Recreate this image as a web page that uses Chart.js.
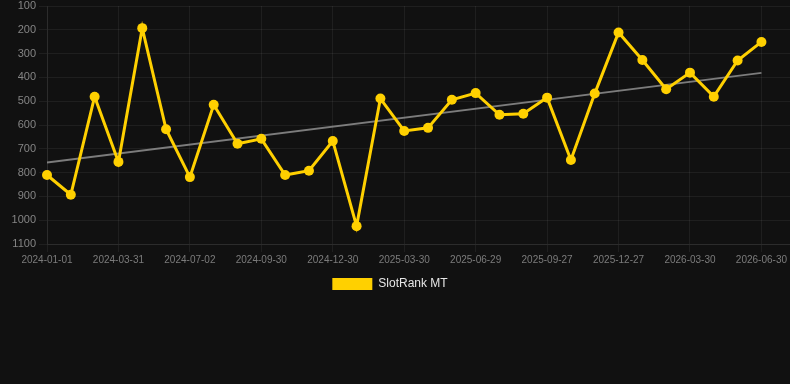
<!DOCTYPE html>
<html>
<head>
<meta charset="utf-8">
<script src="https://cdn.jsdelivr.net/npm/chart.js@4"></script>
<style>
  html, body { margin: 0; padding: 0; background: #111111; }
  #wrap { width: 790px; height: 300px; position: relative; }
</style>
</head>
<body>
<div id="wrap"><canvas id="chart"></canvas></div>
<script>
// Datas (uma a cada ~30 dias)
const dates = [
  '2024-01-01', '2024-01-31', '2024-03-01', '2024-03-31', '2024-05-01', '2024-06-01',
  '2024-07-02', '2024-08-01', '2024-08-31', '2024-09-30', '2024-10-30', '2024-11-30',
  '2024-12-30', '2025-01-29', '2025-02-28', '2025-03-30', '2025-04-30', '2025-05-30',
  '2025-06-29', '2025-07-29', '2025-08-28', '2025-09-27', '2025-10-27', '2025-11-27',
  '2025-12-27', '2026-01-27', '2026-02-27', '2026-03-30', '2026-04-30', '2026-05-30',
  '2026-06-30'
];

// Rank (menor = melhor)
const rankValues = [
  810, 893, 481, 755, 193, 618, 819, 515, 679, 658, 810, 792, 667, 1025, 489, 625,
  612, 494, 466, 557, 553, 485, 747, 468, 211, 327, 450, 380, 481, 329, 251
];

// Linha de tendência (início e fim)
const trendValues = [758, 381];

const yTicks = [100, 200, 300, 400, 500, 600, 700, 800, 900, 1000, 1100];
const seriesName = 'SlotRank MT';

const gold = '#ffd000';
const gridColor = 'rgba(255, 255, 255, 0.06)';

Chart.defaults.font.family = 'Arial, "Liberation Sans", sans-serif';

const rankPoints = rankValues.map((v, i) => ({ x: i, y: v }));
const trendPoints = [
  { x: 0, y: trendValues[0] },
  { x: dates.length - 1, y: trendValues[1] }
];

new Chart(document.getElementById('chart'), {
  type: 'line',
  data: {
    datasets: [{
      label: seriesName,
      data: rankPoints,
      borderColor: gold,
      backgroundColor: gold,
      borderWidth: 3,
      pointRadius: 5,
      pointHoverRadius: 5,
      pointBorderWidth: 0,
      tension: 0,
      clip: false
    }, {
      label: 'trend',
      data: trendPoints,
      borderColor: 'rgba(160, 160, 160, 0.75)',
      borderWidth: 2,
      pointRadius: 0,
      tension: 0
    }]
  },
  options: {
    responsive: true,
    maintainAspectRatio: false,
    animation: false,
    layout: { autoPadding: false },
    scales: {
      x: {
        type: 'linear',
        min: 0,
        max: 31.2,
        afterBuildTicks: (axis) => {
          axis.ticks = dates.map((d, i) => i).filter(i => i % 3 === 0).map(v => ({ value: v }));
        },
        afterFit: (axis) => {
          axis.paddingLeft = 0;
          axis.paddingRight = 0;
        },
        ticks: {
          autoSkip: false,
          maxRotation: 0,
          padding: 2,
          color: '#7c7c7c',
          font: { size: 10 },
          callback: (v) => dates[v] || ''
        },
        grid: { color: gridColor },
        border: { color: gridColor }
      },
      y: {
        reverse: true,
        min: yTicks[0],
        max: yTicks[yTicks.length - 1],
        afterBuildTicks: (axis) => {
          axis.ticks = yTicks.map(v => ({ value: v }));
        },
        afterFit: (axis) => {
          axis.width = 47;
          axis.paddingTop = 6;
        },
        ticks: {
          color: '#858585',
          font: { size: 11 },
          callback: (v) => String(v)
        },
        grid: { color: gridColor },
        border: { color: gridColor }
      }
    },
    plugins: {
      legend: {
        position: 'bottom',
        labels: {
          color: '#e6e6e6',
          boxWidth: 40,
          boxHeight: 12,
          font: { size: 12 },
          filter: (item) => item.text.trim() === seriesName,
          generateLabels: (chart) => {
            const items = Chart.defaults.plugins.legend.labels.generateLabels(chart);
            items.forEach(it => {
              it.lineWidth = 0;
              it.text = it.text + '   ';
            });
            return items;
          }
        }
      },
      tooltip: { enabled: false }
    }
  }
});
</script>
</body>
</html>
